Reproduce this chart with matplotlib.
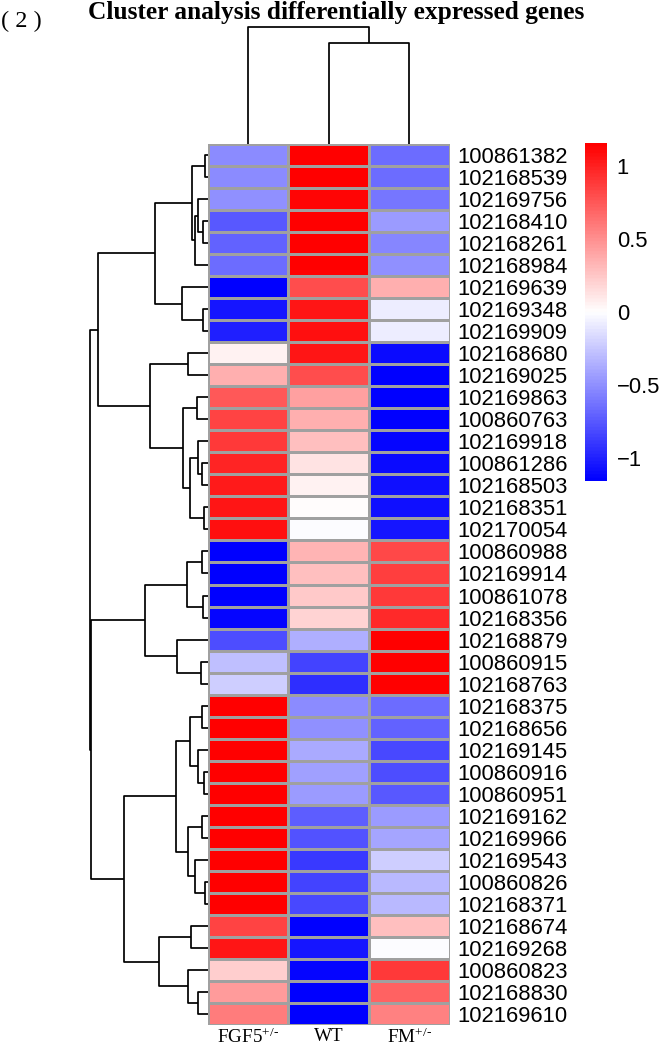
import numpy as np
import matplotlib
matplotlib.use("Agg")
import matplotlib.pyplot as plt
from matplotlib.colors import LinearSegmentedColormap

plt.rcParams['font.family'] = ['Liberation Sans', 'DejaVu Sans']
plt.rcParams['mathtext.fontset'] = 'custom'
plt.rcParams['mathtext.rm'] = 'Liberation Serif'
plt.rcParams['mathtext.it'] = 'Liberation Serif:italic'
plt.rcParams['mathtext.bf'] = 'Liberation Serif:bold'

# gene ids, top to bottom as in the clustered heatmap
genes = ['100861382', '102168539', '102169756', '102168410', '102168261', '102168984',
         '102169639', '102169348', '102169909', '102168680', '102169025', '102169863',
         '100860763', '102169918', '100861286', '102168503', '102168351', '102170054',
         '100860988', '102169914', '100861078', '102168356', '102168879', '100860915',
         '102168763', '102168375', '102168656', '102169145', '100860916', '100860951',
         '102169162', '102169966', '102169543', '100860826', '102168371', '102168674',
         '102169268', '100860823', '102168830', '102169610']
samples = ['FGF5$^{+/\u2010}$', 'WT', 'FM$^{+/\u2010}$']

# row z-scores
fgf5 = [-0.52, -0.52, -0.50, -0.75, -0.70, -0.65, -1.15, -1.05, -1.00, 0.05,
        0.35, 0.75, 0.85, 0.88, 0.98, 1.02, 1.05, 1.07, -1.15, -1.15,
        -1.15, -1.12, -0.80, -0.30, -0.22, 1.15, 1.15, 1.15, 1.15, 1.15,
        1.15, 1.15, 1.15, 1.15, 1.15, 0.85, 1.05, 0.22, 0.45, 0.58]
wt = [1.15, 1.15, 1.12, 1.15, 1.15, 1.15, 0.80, 1.05, 1.08, 1.05,
      0.80, 0.42, 0.35, 0.30, 0.12, 0.05, 0.02, -0.01, 0.33, 0.28,
      0.25, 0.20, -0.35, -0.85, -0.93, -0.53, -0.50, -0.39, -0.43, -0.45,
      -0.73, -0.77, -0.90, -0.85, -0.83, -1.15, -1.05, -1.13, -1.15, -1.15]
fm = [-0.65, -0.65, -0.62, -0.45, -0.55, -0.50, 0.35, -0.08, -0.08, -1.10,
      -1.15, -1.15, -1.15, -1.12, -1.10, -1.08, -1.07, -1.06, 0.82, 0.87,
      0.90, 0.95, 1.15, 1.15, 1.15, -0.65, -0.70, -0.82, -0.80, -0.75,
      -0.45, -0.40, -0.23, -0.32, -0.32, 0.30, -0.02, 0.90, 0.70, 0.57]
scale_lim = 1.155
legend_ticks = [1, 0.5, 0, -0.5, -1]

# dendrograms: (merge height, left, right), ints are leaf indices
g1 = (15.5, (2.5, 0, 1), (12.5, (9.5, 2, (4.5, 3, 4)), 5))
g2 = (25.5, 6, (4.5, 7, 8))
g3 = (19.5, 9, 10)
g4 = (24.5, (10.5, 11, 12), (17.5, (9.5, 13, (5.5, 14, 15)), (3.5, 16, 17)))
g5 = (20.5, (5.5, 18, 19), (4.5, 20, 21))
g6 = (30.5, 22, (6.5, 23, 24))
g7 = (31.5, (17.5, (5.5, 25, 26), (9.5, 27, (3.5, 28, 29))),
      (19.5, (5.5, 30, 31), (12.5, 32, (2.5, 33, 34))))
g8 = (16.5, 35, 36)
g9 = (19.5, 37, (9.5, 38, 39))
row_tree = (118, (109.5, (52.5, g1, g2), (57.5, g3, g4)),
            (117, (62.5, g5, g6), (83.5, g7, (49, g8, g9))))
col_tree = (117, 0, (101, 1, 2))

W, H = 660, 1049


def px_rect(x0, y0, x1, y1):
    return [x0 / W, 1 - y1 / H, (x1 - x0) / W, (y1 - y0) / H]


def draw_tree(ax, node, horizontal):
    """Draw a dendrogram node as U shapes, return (position, height)."""
    if isinstance(node, int):
        return node + 0.5, 0
    h, a, b = node
    pa, ha = draw_tree(ax, a, horizontal)
    pb, hb = draw_tree(ax, b, horizontal)
    hs = [ha, h, h, hb]
    ps = [pa, pa, pb, pb]
    if horizontal:
        ax.plot(hs, ps, color='black', lw=1.25, clip_on=False, solid_capstyle='butt')
    else:
        ax.plot(ps, hs, color='black', lw=1.25, clip_on=False, solid_capstyle='butt')
    return (pa + pb) / 2, h


cmap = LinearSegmentedColormap.from_list('bwr_ph', ['#0000ff', '#ffffff', '#ff0000'], N=100)
values = np.column_stack([fgf5, wt, fm])

fig = plt.figure(figsize=(W / 100, H / 100), dpi=100)

# heatmap
ax = fig.add_axes(px_rect(207.5, 144, 449.5, 1025))
ax.pcolormesh(values, cmap=cmap, vmin=-scale_lim, vmax=scale_lim,
              edgecolors='#a0a0a0', linewidth=1.0)
ax.set_xlim(0, 3)
ax.set_ylim(len(genes), 0)
for s in ax.spines.values():
    s.set_visible(False)
ax.yaxis.tick_right()
ax.set_yticks(np.arange(len(genes)) + 0.5)
ax.set_yticklabels(genes, fontsize=15.8)
ax.set_xticks(np.arange(3) + 0.5)
ax.set_xticklabels(samples, fontsize=13.8, family=['Liberation Serif'])
ax.tick_params(axis='y', length=0, pad=6)
ax.tick_params(axis='x', length=0, pad=2)

# row dendrogram
ax_r = fig.add_axes(px_rect(80, 144, 207.5, 1025))
draw_tree(ax_r, row_tree, True)
ax_r.set_xlim(127.5, 0)
ax_r.set_ylim(len(genes), 0)
ax_r.axis('off')

# column dendrogram
ax_c = fig.add_axes(px_rect(207.5, 20, 449.5, 144))
draw_tree(ax_c, col_tree, False)
ax_c.set_xlim(0, 3)
ax_c.set_ylim(0, 124)
ax_c.axis('off')

# colour legend
ax_l = fig.add_axes(px_rect(585, 143, 607, 481))
grad = np.linspace(-scale_lim, scale_lim, 200).reshape(-1, 1)
ax_l.imshow(grad, cmap=cmap, vmin=-scale_lim, vmax=scale_lim, origin='lower',
            aspect='auto', extent=[0, 1, -scale_lim, scale_lim])
for s in ax_l.spines.values():
    s.set_visible(False)
ax_l.set_xticks([])
ax_l.yaxis.tick_right()
ax_l.set_yticks(legend_ticks)
ax_l.set_yticklabels([f'{t:g}'.replace('-', '\u2212') for t in legend_ticks], fontsize=15.8)
ax_l.tick_params(axis='y', length=0, pad=7)

fig.text(88 / W, 1 - 12 / H, 'Cluster analysis differentially expressed genes',
         family=['Liberation Serif'], fontweight='bold', fontsize=18.3, va='center', ha='left')
fig.text(1 / W, 1 - 21 / H, '( 2 )', family=['Liberation Serif'], fontsize=17.5,
         va='center', ha='left')

fig.savefig('out.png', dpi=100)
